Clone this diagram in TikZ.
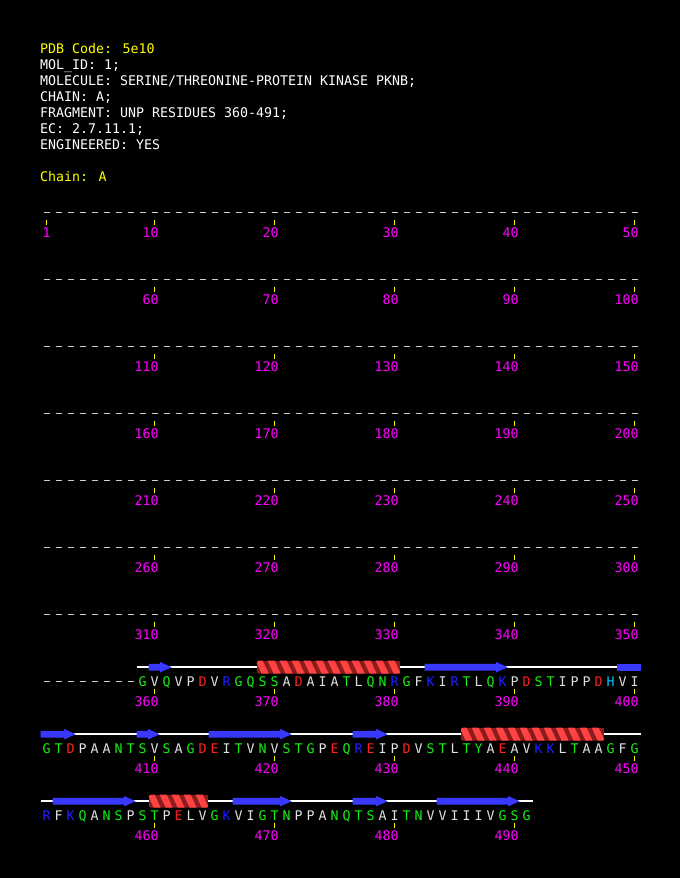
\documentclass[tikz,border=0pt]{standalone}
\usepackage{fontspec}
\newfontfamily\pdbmono{DejaVu Sans Mono}
\definecolor{seqwhite}{RGB}{225,225,225}
\definecolor{seqgreen}{RGB}{20,240,20}
\definecolor{seqred}{RGB}{255,32,32}
\definecolor{seqblue}{RGB}{32,32,255}
\definecolor{seqcyan}{RGB}{0,200,255}
\definecolor{tickyellow}{RGB}{255,255,0}
\definecolor{numpink}{RGB}{255,0,255}
\definecolor{strandblue}{RGB}{56,56,255}
\definecolor{helixred}{RGB}{255,66,66}
\definecolor{helixdark}{RGB}{140,28,28}
\definecolor{dashgray}{RGB}{205,205,205}
% residue colours
\newcommand\rcV{seqwhite}\newcommand\rcP{seqwhite}\newcommand\rcA{seqwhite}
\newcommand\rcI{seqwhite}\newcommand\rcL{seqwhite}\newcommand\rcF{seqwhite}
\newcommand\rcG{seqgreen}\newcommand\rcQ{seqgreen}\newcommand\rcS{seqgreen}
\newcommand\rcT{seqgreen}\newcommand\rcN{seqgreen}\newcommand\rcY{seqgreen}
\newcommand\rcD{seqred}\newcommand\rcE{seqred}
\newcommand\rcR{seqblue}\newcommand\rcK{seqblue}
\newcommand\rcH{seqcyan}
% a row of residue letters: row index, first position, letters
\newcommand\seqrow[3]{%
  \foreach \c [count=\j from #2] in {#3} {
    \pgfmathsetmacro\xx{46.7+(\j-1)*12}
    \pgfmathsetmacro\yy{217.2+67*(#1-1)}
    \pgfmathtruncatemacro\rn{50*(#1-1)+\j}
    \edef\cc{\csname rc\c\endcsname}
    \node[res, text=\cc] (res\rn) at (\xx,\yy) {\c};
  }}
% helix: row, first pos, last pos
\newcommand\drawhelix[3]{%
  \pgfmathsetmacro\hy{217.2+67*(#1-1)-19}
  \pgfmathsetmacro\hxa{40.7+(#2-1)*12}
  \pgfmathsetmacro\hxb{52.7+(#3-1)*12}
  \begin{scope}
    \clip[rounded corners=2.5pt] (\hxa,\hy-6.5) rectangle (\hxb,\hy+6.5);
    \fill[helixdark] (\hxa,\hy-6.5) rectangle (\hxb,\hy+6.5);
    \foreach \t in {#2,...,#3} {
      \pgfmathsetmacro\px{40.7+(\t-1)*12}
      \fill[helixred] (\px-1,\hy-6.5) -- (\px+6,\hy-6.5) -- (\px+12,\hy+6.5) -- (\px+5,\hy+6.5) -- cycle;
    }
  \end{scope}}
% strand: row, first pos, last pos, head (1/0)
\newcommand\drawstrand[4]{%
  \pgfmathsetmacro\sy{217.2+67*(#1-1)-19}
  \pgfmathsetmacro\sxa{40.7+(#2-1)*12}
  \pgfmathsetmacro\sxb{52.7+(#3-1)*12}
  \ifnum#4=1
    \fill[strandblue] (\sxa,\sy-3.3) -- (\sxb-12.5,\sy-3.3) -- (\sxb-12.5,\sy-5.2) -- (\sxb-1,\sy) -- (\sxb-12.5,\sy+5.2) -- (\sxb-12.5,\sy+3.3) -- (\sxa,\sy+3.3) -- cycle;
  \else
    \fill[strandblue] (\sxa,\sy-3.3) rectangle (\sxb,\sy+3.3);
  \fi}
\begin{document}
\begin{tikzpicture}[x=1pt,y=-1pt,
  txt/.style={inner sep=0pt, outer sep=0pt, font=\pdbmono\fontsize{13.29}{16}\selectfont},
  hdr/.style={txt, anchor=base west, text=white},
  hdrY/.style={hdr, text=tickyellow},
  res/.style={txt, anchor=base},
  num/.style={txt, anchor=base east, text=numpink},
  tickmark/.style={draw=tickyellow, line width=1.4pt},
  dashrule/.style={draw=dashgray, line width=1.3pt, dash pattern=on 6pt off 6pt},
  backbone/.style={draw=white, line width=1.6pt}]
\fill[black] (0,0) rectangle (680,878);
\useasboundingbox (0,0) rectangle (680,878);
% header
\node[hdrY] (pdb) at (40,53) {PDB Code: 5e10};
\node[hdr] (molid) at (40,69) {MOL\_ID: 1;};
\node[hdr] (molecule) at (40,85) {MOLECULE: SERINE/THREONINE-PROTEIN KINASE PKNB;};
\node[hdr] (chainl) at (40,101) {CHAIN: A;};
\node[hdr] (fragment) at (40,117) {FRAGMENT: UNP RESIDUES 360-491;};
\node[hdr] (ec) at (40,133) {EC: 2.7.11.1;};
\node[hdr] (eng) at (40,149) {ENGINEERED: YES};
\node[hdrY] (chain) at (40,181) {Chain: A};
% empty ruler rows
\foreach \k in {1,...,7}{
  \pgfmathsetmacro\rowb{217.2+67*(\k-1)}
  \draw[dashrule] (43.7,\rowb-5) -- (640,\rowb-5);
  \foreach \j in {10,20,30,40,50}{
    \pgfmathsetmacro\x{46.7+(\j-1)*12}
    \pgfmathtruncatemacro\n{50*(\k-1)+\j}
    \draw[tickmark] (\x,\rowb+3) -- (\x,\rowb+8);
    \node[num] (lab\n) at (\x+4,\rowb+20.6) {\n};
  }
}
\draw[tickmark] (46.7,220.2) -- (46.7,225.2);
\node[num] (lab1) at (50.7,237.8) {1};
% sequence rows: backbone lines
\coordinate (bb8a) at (136.7,667.2); \coordinate (bb8b) at (640.7,667.2);
\coordinate (bb9a) at (40.7,734.2);  \coordinate (bb9b) at (640.7,734.2);
\coordinate (bb10a) at (40.7,801.2); \coordinate (bb10b) at (532.7,801.2);
\draw[backbone] (bb8a) -- (bb8b);
\draw[backbone] (bb9a) -- (bb9b);
\draw[backbone] (bb10a) -- (bb10b);
% strands
\drawstrand{8}{10}{11}{1}
\drawstrand{8}{33}{39}{1}
\drawstrand{8}{49}{50}{0}
\drawstrand{9}{1}{3}{1}
\drawstrand{9}{9}{10}{1}
\drawstrand{9}{15}{21}{1}
\drawstrand{9}{27}{29}{1}
\drawstrand{10}{2}{8}{1}
\drawstrand{10}{17}{21}{1}
\drawstrand{10}{27}{29}{1}
\drawstrand{10}{34}{40}{1}
% helices
\drawhelix{8}{19}{30}
\drawhelix{9}{36}{47}
\drawhelix{10}{10}{14}
% row 8 leading dashes
\draw[dashrule] (43.7,681.2) -- (133.7,681.2);
% residues
\seqrow{8}{9}{G,V,Q,V,P,D,V,R,G,Q,S,S,A,D,A,I,A,T,L,Q,N,R,G,F,K,I,R,T,L,Q,K,P,D,S,T,I,P,P,D,H,V,I}
\seqrow{9}{1}{G,T,D,P,A,A,N,T,S,V,S,A,G,D,E,I,T,V,N,V,S,T,G,P,E,Q,R,E,I,P,D,V,S,T,L,T,Y,A,E,A,V,K,K,L,T,A,A,G,F,G}
\seqrow{10}{1}{R,F,K,Q,A,N,S,P,S,T,P,E,L,V,G,K,V,I,G,T,N,P,P,A,N,Q,T,S,A,I,T,N,V,V,I,I,I,V,G,S,G}
% ticks and numbers in sequence rows
\foreach \k/\last in {8/50,9/50,10/40}{
  \pgfmathsetmacro\rowb{217.2+67*(\k-1)}
  \foreach \j in {10,20,...,\last}{
    \pgfmathsetmacro\x{46.7+(\j-1)*12}
    \pgfmathtruncatemacro\n{50*(\k-1)+\j}
    \draw[tickmark] (\x,\rowb+3) -- (\x,\rowb+8);
    \node[num] (lab\n) at (\x+4,\rowb+20.6) {\n};
  }
}
\end{tikzpicture}
\end{document}
